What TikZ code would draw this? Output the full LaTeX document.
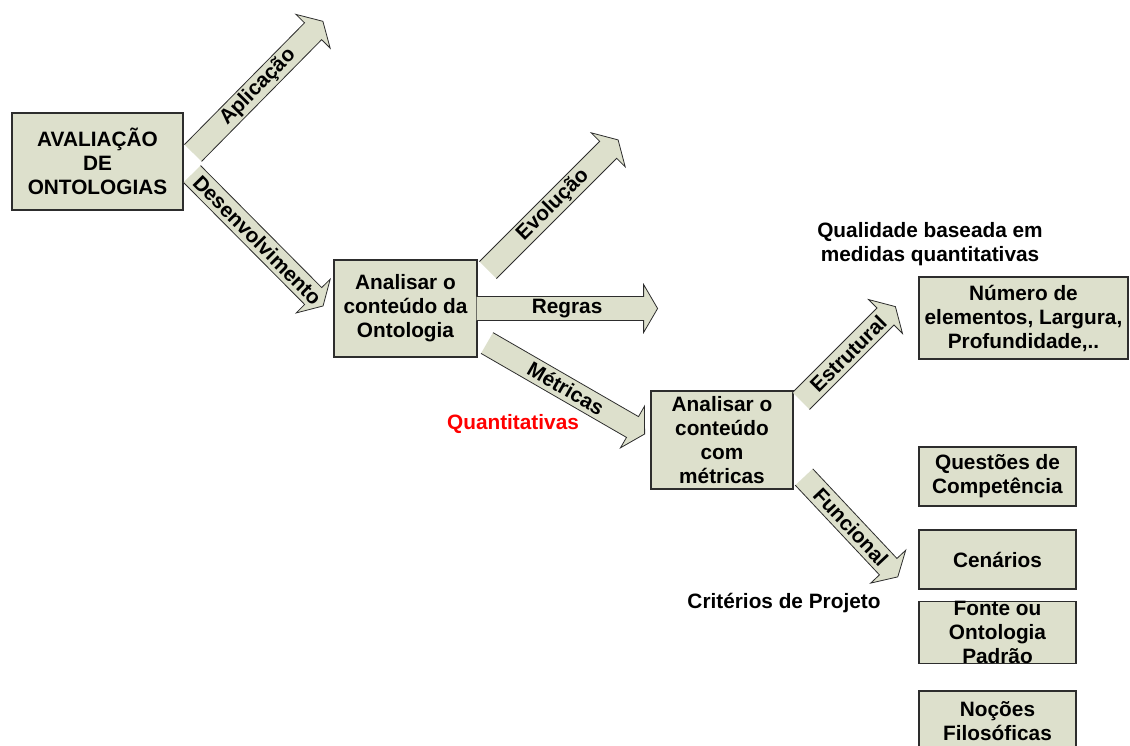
\documentclass[tikz,border=0pt]{standalone}
\usepackage{fontspec}
\setmainfont{Liberation Sans}
\definecolor{boxfill}{RGB}{221,224,204}
\definecolor{boxline}{RGB}{45,45,45}
\definecolor{notered}{RGB}{255,0,0}
\newcommand{\lblfont}{\bfseries\fontsize{20.8}{24}\selectfont}
\tikzset{
  box/.style={draw=boxline, line width=1.2pt, fill=boxfill, align=center,
    inner sep=0pt, font=\lblfont},
  note/.style={align=center, inner sep=0pt, font=\lblfont},
  arrowfill/.style={fill=boxfill},
  arrowline/.style={draw=boxline, line width=0.8pt, line join=miter},
  arrowtext/.style={inner sep=0pt, font=\lblfont},
}
% Block arrow: #1 tail centre, #2 angle, #3 length, #4 label name, #5 label text
\newcommand{\blkarrow}[5]{%
  \begin{scope}[shift={(#1)}, rotate=#2]
    \fill[arrowfill] (0,-12) -- ({#3-14},-12) -- ({#3-14},-24) -- (#3,0)
      -- ({#3-14},24) -- ({#3-14},12) -- (0,12) -- cycle;
    \draw[arrowline] (0,-12) -- ({#3-14},-12) -- ({#3-14},-24) -- (#3,0)
      -- ({#3-14},24) -- ({#3-14},12) -- (0,12);
    \node[arrowtext, transform shape] (#4) at ({#3/2},0) {#5};
  \end{scope}}
\begin{document}
\begin{tikzpicture}[x=1pt,y=1pt]
\useasboundingbox (0,0) rectangle (1130,-745);
\clip (0,0) rectangle (1130,-745);

% boxes
\node[box, minimum width=171pt, minimum height=97pt] (aval) at (97.5,-161.5)
  {AVALIAÇÃO\\DE\\ONTOLOGIAS};
\node[box, minimum width=143pt, minimum height=97pt] (ont) at (405.5,-308.5)
  {Analisar o\\conteúdo da\\Ontologia};
\node[box, minimum width=142pt, minimum height=98pt] (met) at (722,-440)
  {Analisar o\\conteúdo\\com\\métricas};
\node[box, minimum width=209pt, minimum height=82pt] (num) at (1023.5,-318)
  {Número de\\elementos, Largura,\\Profundidade,..};
\node[box, minimum width=157pt, minimum height=59pt] (quest) at (997.5,-476.5)
  {Questões de\\Competência};
\node[box, minimum width=157pt, minimum height=59pt] (cen) at (997.5,-559.5)
  {Cenários};
\node[box, minimum width=157pt, minimum height=59pt] (fonte) at (997.5,-632.5)
  {Fonte ou\\Ontologia\\Padrão};
\node[box, minimum width=157pt, minimum height=59pt, text depth=0pt] (noc) at (997.5,-720.5)
  {Noções\\Filosóficas};

% arrow tails
\coordinate (tApl) at (193,-153);
\coordinate (tDes) at (192,-174);
\coordinate (tEvo) at (488,-270);
\coordinate (tReg) at ([xshift=-1pt]ont.east);
\coordinate (tMet) at (487,-343);
\coordinate (tEst) at (801,-401);
\coordinate (tFun) at (804,-477);

% block arrows
\blkarrow{tApl}{45.4}{185}{aApl}{Aplicação}
\blkarrow{tDes}{-45.2}{186}{aDes}{Desenvolvimento}
\blkarrow{tEvo}{45}{184}{aEvo}{Evolução}
\blkarrow{tReg}{0}{181}{aReg}{Regras}
\blkarrow{tMet}{-30}{182}{aMet}{Métricas}
\blkarrow{tEst}{45}{133.5}{aEst}{Estrutural}
\blkarrow{tFun}{-46.8}{137}{aFun}{Funcional}

% free notes
\node[note, text=notered] (quant) at (513,-424) {Quantitativas};
\node[note] (crit) at (784,-603) {Critérios de Projeto};
\node[note] (qual) at (930,-244) {Qualidade baseada em\\medidas quantitativas};
\end{tikzpicture}
\end{document}
